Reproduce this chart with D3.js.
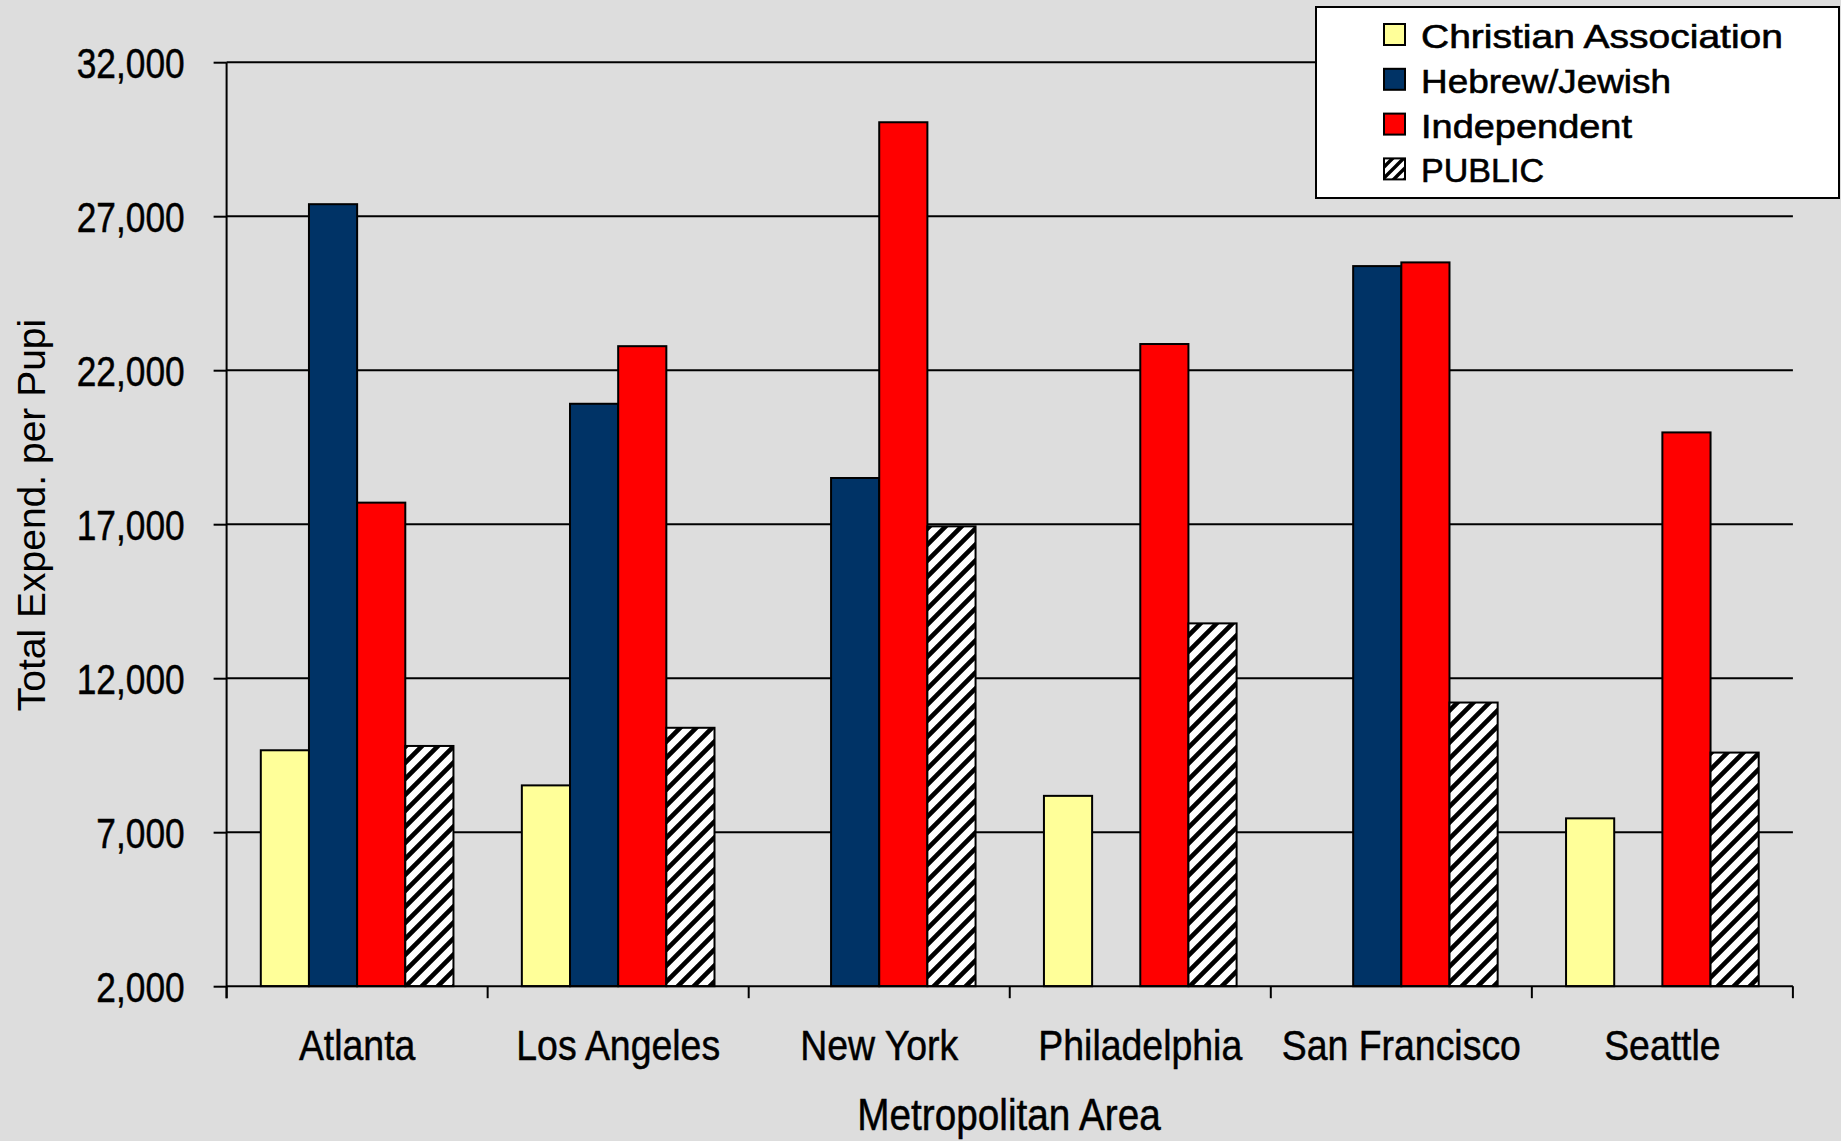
<!DOCTYPE html>
<html><head><meta charset="utf-8">
<script src="https://cdn.jsdelivr.net/npm/d3@7"></script>
<style>
html,body{margin:0;padding:0;background:#DDDDDD;}
svg{display:block;}
</style></head><body>
<svg id="chart" width="1841" height="1141"></svg>
<script>
// ---- data ----
const categories = ["Atlanta", "Los Angeles", "New York", "Philadelphia", "San Francisco", "Seattle"];
const seriesNames = ["Christian Association", "Hebrew/Jewish", "Independent", "PUBLIC"];
const christian = [9660, 8520, null, 8180, null, 7450];
const hebrew = [27390, 20910, 18500, null, 25380, null];
const independent = [17700, 22780, 30050, 22850, 25500, 19980];
const publicSchools = [9800, 10390, 16930, 13780, 11210, 9585];
const yTicks = [2000, 7000, 12000, 17000, 22000, 27000, 32000];
const yTitle = "Total Expend. per Pupi";
const xTitle = "Metropolitan Area";

// ---- styles ----
const fills = ["#FFFF99", "#003366", "#FF0000", "url(#hatch)"];
const legendFills = ["#FFFF99", "#003366", "#FF0000", "url(#hatchSmall)"];
const legendTextWidths = [362, 250, 211, 123];
const font = "'Liberation Sans',Arial,sans-serif";

const svg = d3.select("#chart");
const W = 1841, H = 1141;
const plot = {left: 226.6, right: 1792.9, top: 62.2, bottom: 986.2};

svg.append("rect").attr("width", W).attr("height", H).attr("fill", "#DDDDDD");

function condense(sel, f) {
  sel.each(function () {
    const w = this.getComputedTextLength();
    d3.select(this).attr("textLength", w * f).attr("lengthAdjust", "spacingAndGlyphs");
  });
}

const defs = svg.append("defs");
function hatch(id, s, sw) {
  const p = defs.append("pattern").attr("id", id).attr("patternUnits", "userSpaceOnUse")
    .attr("width", s).attr("height", s);
  p.append("rect").attr("width", s).attr("height", s).attr("fill", "#fff");
  p.append("path").attr("d", `M${-s/2},${s/2} L${s/2},${-s/2} M0,${s} L${s},0 M${s/2},${s*1.5} L${s*1.5},${s/2}`)
    .attr("stroke", "#000").attr("stroke-width", sw);
}
hatch("hatch", 16, 4.6);
hatch("hatchSmall", 11, 3.4);

const y = d3.scaleLinear().domain([2000, 32000]).range([plot.bottom, plot.top]);
const x0 = d3.scaleBand().domain(categories).range([plot.left, plot.right]).paddingInner(0).paddingOuter(0);
const x1 = d3.scaleBand().domain(seriesNames).range([0, x0.bandwidth()]).paddingInner(0).paddingOuter(0.71);

const seriesData = [christian, hebrew, independent, publicSchools];

// gridlines
svg.append("g").selectAll("line").data(yTicks.filter(d => d > 2000)).join("line")
  .attr("x1", plot.left).attr("x2", plot.right)
  .attr("y1", d => y(d)).attr("y2", d => y(d))
  .attr("stroke", "#000").attr("stroke-width", 2);

// bars
const gBars = svg.append("g");
seriesNames.forEach((s, si) => {
  const rows = categories.map((c, ci) => ({c, v: seriesData[si][ci]})).filter(d => d.v != null);
  gBars.append("g").selectAll("rect").data(rows).join("rect")
    .attr("x", d => x0(d.c) + x1(s))
    .attr("width", x1.bandwidth())
    .attr("y", d => y(d.v))
    .attr("height", d => y(2000) - y(d.v))
    .attr("fill", fills[si])
    .attr("stroke", "#000").attr("stroke-width", 2);
});

// y axis
const yAxis = d3.axisLeft(y).tickValues(yTicks).tickSize(13).tickPadding(29).tickFormat(d3.format(","));
const gy = svg.append("g").attr("transform", `translate(${plot.left},0)`).call(yAxis);
gy.select(".domain").remove();
gy.selectAll(".tick line").attr("stroke", "#000").attr("stroke-width", 2);
gy.selectAll(".tick text").attr("font-family", font).attr("font-size", 43).attr("fill", "#000")
  .attr("stroke", "#000").attr("stroke-width", 0.5).attr("dy", "0.35em");
condense(gy.selectAll(".tick text"), 0.82);
svg.append("line").attr("x1", plot.left).attr("x2", plot.left).attr("y1", plot.top).attr("y2", plot.bottom + 12)
  .attr("stroke", "#000").attr("stroke-width", 2);

// x axis
const xAxis = d3.axisBottom(x0).tickSize(0).tickPadding(74);
const gx = svg.append("g").attr("transform", `translate(0,${plot.bottom})`).call(xAxis);
gx.select(".domain").remove();
gx.selectAll(".tick text").attr("font-family", font).attr("font-size", 43).attr("fill", "#000")
  .attr("stroke", "#000").attr("stroke-width", 0.5).attr("dy", "0");
condense(gx.selectAll(".tick text"), 0.87);
svg.append("line").attr("x1", plot.left).attr("x2", plot.right).attr("y1", plot.bottom).attr("y2", plot.bottom)
  .attr("stroke", "#000").attr("stroke-width", 2);
const bounds = categories.map(c => x0(c)).concat([x0(categories[categories.length - 1]) + x0.step()]);
svg.append("g").selectAll("line").data(bounds).join("line")
  .attr("x1", d => d).attr("x2", d => d).attr("y1", plot.bottom).attr("y2", plot.bottom + 12)
  .attr("stroke", "#000").attr("stroke-width", 2);

// titles
const xt = svg.append("text").attr("x", 1009).attr("y", 1130).attr("text-anchor", "middle")
  .attr("font-family", font).attr("font-size", 43.5).attr("fill", "#000")
  .attr("stroke", "#000").attr("stroke-width", 0.5).text(xTitle);
condense(xt, 0.89);
svg.append("text").attr("transform", "translate(45,515) rotate(-90)").attr("text-anchor", "middle")
  .attr("font-family", font).attr("font-size", 39).attr("fill", "#000").text(yTitle);

// legend
const lg = svg.append("g");
lg.append("rect").attr("x", 1316).attr("y", 7).attr("width", 523).attr("height", 191)
  .attr("fill", "#fff").attr("stroke", "#000").attr("stroke-width", 2);
seriesNames.forEach((s, i) => {
  const cy = 36 + i * 44.8;
  lg.append("rect").attr("x", 1384).attr("y", cy - 12).attr("width", 21).attr("height", 21)
    .attr("fill", legendFills[i]).attr("stroke", "#000").attr("stroke-width", 2);
  lg.append("text").attr("x", 1421).attr("y", cy + 12)
    .attr("font-family", font).attr("font-size", 33).attr("fill", "#000")
    .attr("stroke", "#000").attr("stroke-width", 0.6)
    .attr("textLength", legendTextWidths[i]).attr("lengthAdjust", "spacingAndGlyphs").text(s);
});
</script>
</body></html>
